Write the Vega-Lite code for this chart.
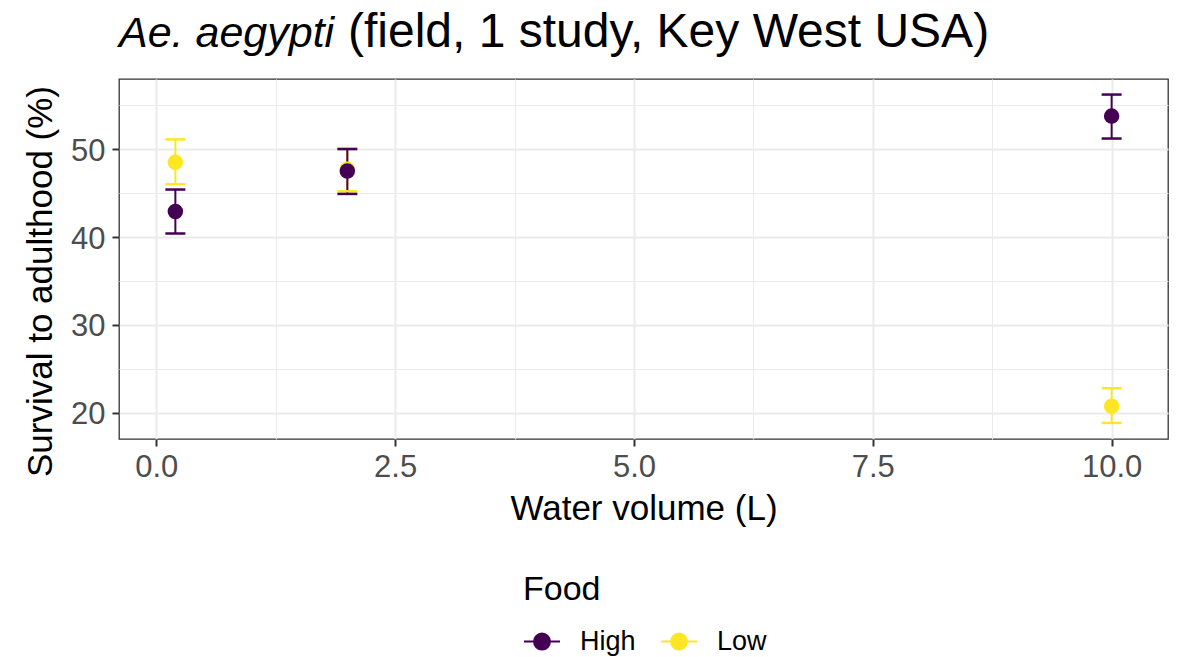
{
  "$schema": "https://vega.github.io/schema/vega-lite/v6.json",
  "autosize": {"type": "none"},
  "padding": {"left": 119, "top": 79, "right": 12, "bottom": 218},
  "width": 1049,
  "height": 360,
  "background": "white",
  "title": {
    "text": "Ae. aegypti",
    "subtitle": "(field, 1 study, Key West USA)",
    "anchor": "start",
    "frame": "group",
    "font": "Liberation Sans",
    "fontSize": 43,
    "fontStyle": "italic",
    "fontWeight": "normal",
    "color": "black",
    "subtitleFont": "Liberation Sans",
    "subtitleFontSize": 48,
    "subtitleFontStyle": "normal",
    "subtitleFontWeight": "normal",
    "subtitleColor": "black",
    "subtitlePadding": -46.9,
    "offset": 18.3,
    "encode": {
      "subtitle": {"update": {"dx": {"value": 229}}}
    }
  },
  "data": {
    "values": [
      {"volume": 0.2, "food": "Low", "mean": 48.5, "lo": 46.0, "hi": 51.1},
      {"volume": 2.0, "food": "Low", "mean": 47.7, "lo": 45.2, "hi": 50.1},
      {"volume": 10.0, "food": "Low", "mean": 20.76, "lo": 18.86, "hi": 22.8},
      {"volume": 0.2, "food": "High", "mean": 42.9, "lo": 40.4, "hi": 45.4},
      {"volume": 2.0, "food": "High", "mean": 47.5, "lo": 44.9, "hi": 50.0},
      {"volume": 10.0, "food": "High", "mean": 53.75, "lo": 51.2, "hi": 56.2}
    ]
  },
  "encoding": {
    "x": {
      "field": "volume",
      "type": "quantitative",
      "scale": {"domain": [-0.39, 10.59], "nice": false, "zero": false},
      "axis": {
        "values": [0, 1.25, 2.5, 3.75, 5, 6.25, 7.5, 8.75, 10],
        "format": ".1f",
        "labelExpr": "datum.value % 2.5 === 0 ? datum.label : ''",
        "grid": true,
        "gridColor": "#EBEBEB",
        "gridWidth": {"condition": {"test": "datum.value % 2.5 === 0", "value": 2}, "value": 1},
        "tickOpacity": {"condition": {"test": "datum.value % 2.5 === 0", "value": 1}, "value": 0},
        "tickSize": 7,
        "tickWidth": 2,
        "tickColor": "#333333",
        "domain": false,
        "labelFont": "Liberation Sans",
        "labelFontSize": 31,
        "labelColor": "#4D4D4D",
        "labelPadding": 6,
        "labelFlush": false,
        "labelOverlap": false,
        "title": "Water volume (L)",
        "titleFont": "Liberation Sans",
        "titleFontSize": 35,
        "titleFontWeight": "normal",
        "titleColor": "black",
        "titleY": 80,
        "titleBaseline": "alphabetic"
      }
    },
    "color": {
      "field": "food",
      "type": "nominal",
      "scale": {"domain": ["High", "Low"], "range": ["#440154", "#FDE725"]},
      "legend": {
        "orient": "none",
        "legendX": 404,
        "legendY": 493.6,
        "direction": "horizontal",
        "title": "Food",
        "titleFont": "Liberation Sans",
        "titleFontSize": 34,
        "titleFontWeight": "normal",
        "titleColor": "black",
        "titlePadding": 16,
        "labelFont": "Liberation Sans",
        "labelFontSize": 27,
        "labelColor": "black",
        "labelOffset": 19,
        "columnPadding": 21,
        "padding": 0,
        "symbolType": "M-1,0L1,0M0.444,0A0.444,0.444,0,1,1,-0.444,0A0.444,0.444,0,1,1,0.444,0Z",
        "symbolSize": 1296,
        "symbolStrokeWidth": 2,
        "encode": {
          "symbols": {
            "update": {
              "fill": {"scale": "color", "field": "value"},
              "stroke": {"scale": "color", "field": "value"},
              "strokeWidth": {"value": 2},
              "opacity": {"value": 1}
            }
          }
        }
      }
    }
  },
  "layer": [
    {
      "mark": {"type": "rule", "strokeWidth": 2},
      "encoding": {
        "y": {
          "field": "lo",
          "type": "quantitative",
          "scale": {"domain": [17.03, 57.97], "nice": false, "zero": false},
          "title": "Survival to adulthood (%)",
          "axis": {
            "values": [20, 25, 30, 35, 40, 45, 50, 55],
            "format": "d",
            "labelExpr": "datum.value % 10 === 0 ? datum.label : ''",
            "grid": true,
            "gridColor": "#EBEBEB",
            "gridWidth": {"condition": {"test": "datum.value % 10 === 0", "value": 2}, "value": 1},
            "tickOpacity": {"condition": {"test": "datum.value % 10 === 0", "value": 1}, "value": 0},
            "tickSize": 7,
            "tickWidth": 2,
            "tickColor": "#333333",
            "domain": false,
            "labelFont": "Liberation Sans",
            "labelFontSize": 31,
            "labelColor": "#4D4D4D",
            "labelPadding": 7,
            "labelOffset": 2,
            "labelFlush": false,
            "labelOverlap": false,
            "titleFont": "Liberation Sans",
            "titleFontSize": 35,
            "titleFontWeight": "normal",
            "titleColor": "black",
            "titleX": -68,
            "titleY": 202,
            "titleAngle": -90,
            "titleAlign": "center",
            "titleBaseline": "alphabetic"
          }
        },
        "y2": {"field": "hi"}
      }
    },
    {
      "transform": [{"fold": ["lo", "hi"], "as": ["bound", "val"]}],
      "mark": {"type": "tick", "orient": "horizontal", "size": 20, "thickness": 2.5, "opacity": 1},
      "encoding": {
        "y": {
          "field": "val",
          "type": "quantitative",
          "title": "Survival to adulthood (%)"
        }
      }
    },
    {
      "mark": {"type": "point", "filled": true, "size": 240, "opacity": 1},
      "encoding": {
        "y": {
          "field": "mean",
          "type": "quantitative",
          "title": "Survival to adulthood (%)"
        }
      }
    }
  ],
  "config": {
    "font": "Liberation Sans",
    "view": {"stroke": "#333333", "strokeWidth": 1.3}
  }
}
